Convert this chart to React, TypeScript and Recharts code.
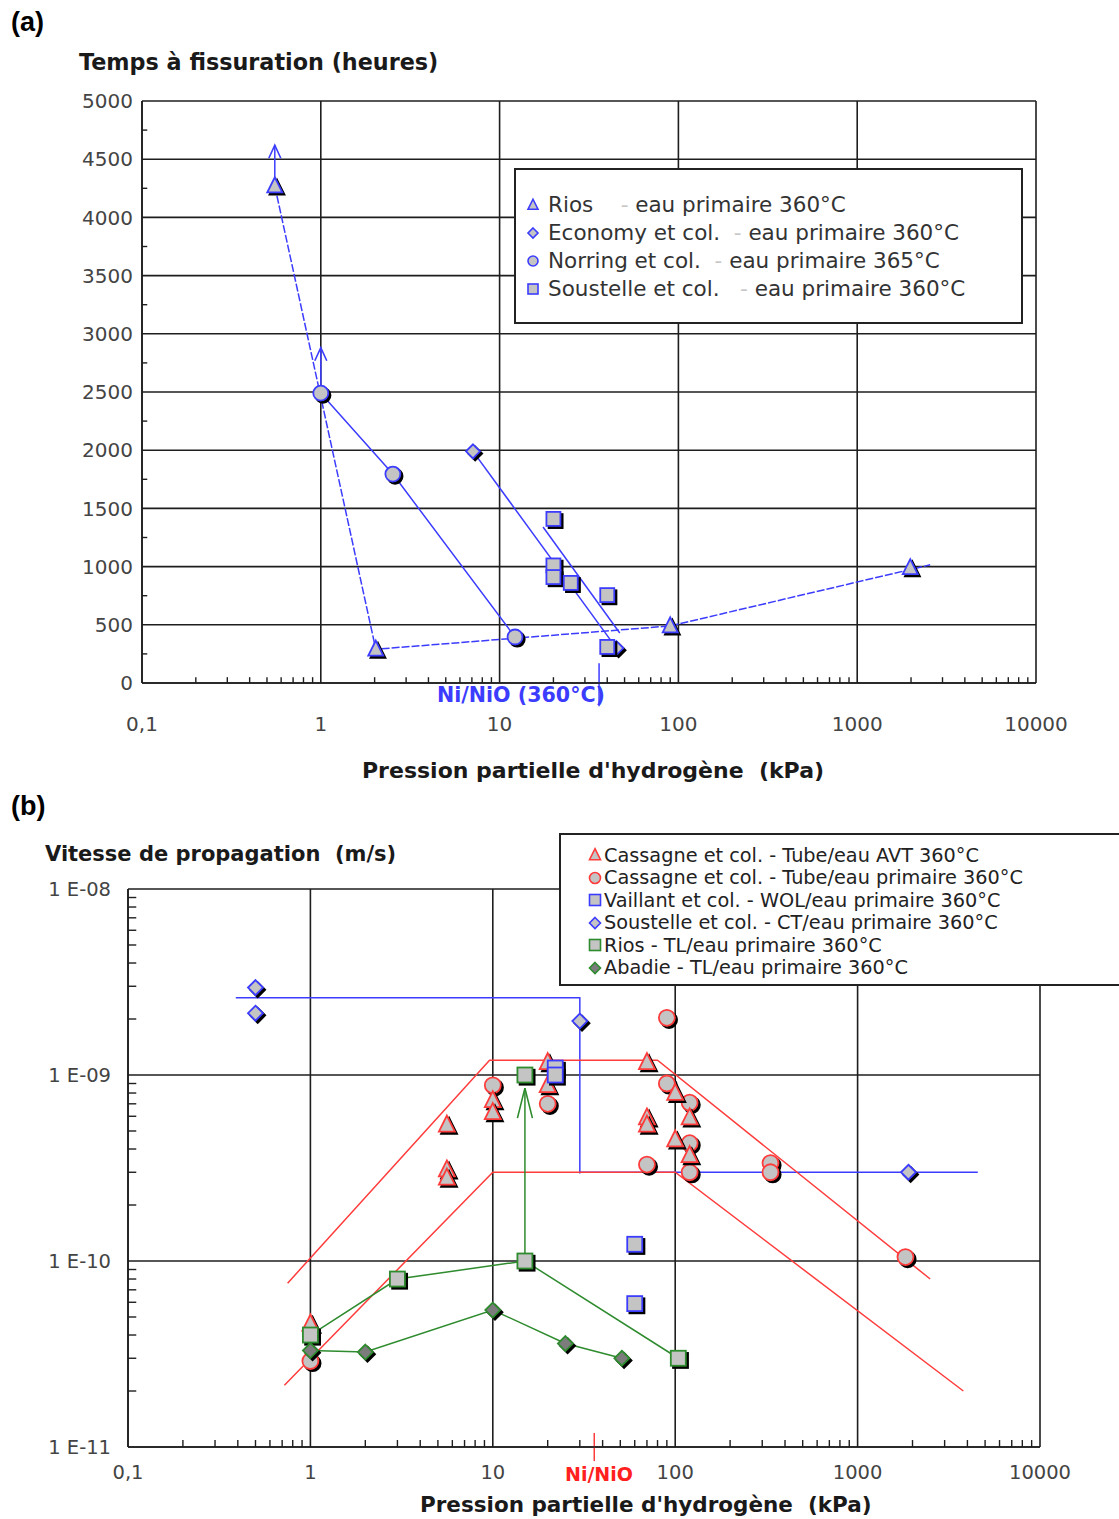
import React from 'react'
import { ScatterChart, Scatter, XAxis, YAxis, CartesianGrid, ReferenceLine } from 'recharts'

type Pt = { x: number; y: number }
type Kind = 'triangle' | 'circle' | 'square' | 'diamond'

// shared hydrogen pressure axis (kPa, log)
const pressureTicks = [0.1, 1, 10, 100, 1000, 10000]
const pressureTickLabels = ['0,1', '1', '10', '100', '1000', '10000']
const pressureMinorTicks = [
  0.2, 0.3, 0.4, 0.5, 0.6, 0.7, 0.8, 0.9, 2, 3, 4, 5, 6, 7, 8, 9, 20, 30, 40, 50, 60, 70, 80, 90,
  200, 300, 400, 500, 600, 700, 800, 900, 2000, 3000, 4000, 5000, 6000, 7000, 8000, 9000,
]
const niNiOPressure = 36

// (a) time to cracking (hours)
const hoursTicks = [0, 500, 1000, 1500, 2000, 2500, 3000, 3500, 4000, 4500, 5000]
const hoursMinorTicks = [250, 750, 1250, 1750, 2250, 2750, 3250, 3750, 4250, 4750]

const riosHours: Pt[] = [
  { x: 0.553, y: 4270 },
  { x: 2.03, y: 290 },
  { x: 90, y: 490 },
  { x: 1980, y: 990 },
]
const riosHoursTrend: Pt[] = [
  { x: 0.553, y: 4270 },
  { x: 2.03, y: 290 },
  { x: 90, y: 490 },
  { x: 2560, y: 1015 },
]
const riosHoursArrowA: Pt[] = [{ x: 0.553, y: 4270 }, { x: 0.553, y: 4620 }]
const riosHoursArrowB: Pt[] = [{ x: 1, y: 2500 }, { x: 1, y: 2880 }]
const economyHours: Pt[] = [{ x: 7.1, y: 1990 }, { x: 45, y: 300 }]
const norringHours: Pt[] = [{ x: 1, y: 2490 }, { x: 2.53, y: 1795 }, { x: 12.2, y: 395 }]
const soustelleHours: Pt[] = [
  { x: 20, y: 1410 },
  { x: 20, y: 1010 },
  { x: 20, y: 910 },
  { x: 25, y: 860 },
  { x: 40, y: 755 },
  { x: 40, y: 310 },
]
const soustelleHoursTrend: Pt[] = [{ x: 17.5, y: 1340 }, { x: 47, y: 430 }]

// (b) crack growth rate (m/s)
const speedTicks = [1e-11, 1e-10, 1e-9, 1e-8]
const speedTickLabels = ['1 E-11', '1 E-10', '1 E-09', '1 E-08']
const speedMinorTicks = [
  2e-11, 3e-11, 4e-11, 5e-11, 6e-11, 7e-11, 8e-11, 9e-11,
  2e-10, 3e-10, 4e-10, 5e-10, 6e-10, 7e-10, 8e-10, 9e-10,
  2e-9, 3e-9, 4e-9, 5e-9, 6e-9, 7e-9, 8e-9, 9e-9,
]

const cassagneAvt: Pt[] = [
  { x: 1, y: 4.6e-11 },
  { x: 5.6, y: 5.4e-10 },
  { x: 5.6, y: 3.1e-10 },
  { x: 5.6, y: 2.8e-10 },
  { x: 10, y: 7.3e-10 },
  { x: 10, y: 6.3e-10 },
  { x: 20, y: 1.17e-9 },
  { x: 20, y: 8.8e-10 },
  { x: 70, y: 1.17e-9 },
  { x: 70, y: 5.9e-10 },
  { x: 70, y: 5.4e-10 },
  { x: 100, y: 8e-10 },
  { x: 100, y: 4.5e-10 },
  { x: 120, y: 5.9e-10 },
  { x: 120, y: 3.7e-10 },
]
const cassagnePrimary: Pt[] = [
  { x: 1, y: 2.9e-11 },
  { x: 10, y: 8.8e-10 },
  { x: 20, y: 7e-10 },
  { x: 70, y: 3.3e-10 },
  { x: 90, y: 2.03e-9 },
  { x: 90, y: 9e-10 },
  { x: 120, y: 7.1e-10 },
  { x: 120, y: 4.3e-10 },
  { x: 120, y: 3e-10 },
  { x: 333, y: 3.36e-10 },
  { x: 333, y: 3e-10 },
  { x: 1830, y: 1.05e-10 },
]
const cassagneUpper: Pt[] = [
  { x: 0.75, y: 7.6e-11 },
  { x: 9.6, y: 1.2e-9 },
  { x: 80, y: 1.2e-9 },
  { x: 2500, y: 8e-11 },
]
const cassagneLower: Pt[] = [
  { x: 0.72, y: 2.15e-11 },
  { x: 10, y: 3e-10 },
  { x: 100, y: 3e-10 },
  { x: 3800, y: 2e-11 },
]
const vaillantWol: Pt[] = [
  { x: 22, y: 1.09e-9 },
  { x: 22, y: 1e-9 },
  { x: 60, y: 1.23e-10 },
  { x: 60, y: 5.9e-11 },
]
const soustelleCt: Pt[] = [
  { x: 0.5, y: 2.95e-9 },
  { x: 0.5, y: 2.15e-9 },
  { x: 30, y: 1.95e-9 },
  { x: 1900, y: 3e-10 },
]
const soustelleCtStep: Pt[] = [
  { x: 0.39, y: 2.6e-9 },
  { x: 30, y: 2.6e-9 },
  { x: 30, y: 2.95e-10 },
  { x: 30, y: 3e-10 },
  { x: 4560, y: 3e-10 },
]
const riosTl: Pt[] = [
  { x: 1, y: 4e-11 },
  { x: 3, y: 8e-11 },
  { x: 15, y: 1e-10 },
  { x: 15, y: 1e-9 },
  { x: 104, y: 3e-11 },
]
const riosTlTrend: Pt[] = [
  { x: 1, y: 4e-11 },
  { x: 3, y: 8e-11 },
  { x: 15, y: 1e-10 },
  { x: 104, y: 3e-11 },
]
const riosTlArrow: Pt[] = [{ x: 15, y: 1e-10 }, { x: 15, y: 8.5e-10 }]
const abadieTl: Pt[] = [
  { x: 1, y: 3.3e-11 },
  { x: 2, y: 3.24e-11 },
  { x: 10, y: 5.45e-11 },
  { x: 25, y: 3.6e-11 },
  { x: 51, y: 3e-11 },
]

const BLUE = '#3c3cff'
const RED = '#ff3c3c'
const GREEN = '#2e8b2e'
const GREY = '#c4c4c4'
const GRID = '#1e1e1e'
const FONT = '"DejaVu Sans", Verdana, sans-serif'

function glyph(kind: Kind, cx: number, cy: number, r: number, stroke: string, fill: string, sw = 1.8) {
  switch (kind) {
    case 'triangle':
      return (
        <polygon
          points={`${cx},${cy - r * 1.15} ${cx + r},${cy + r * 0.85} ${cx - r},${cy + r * 0.85}`}
          stroke={stroke} fill={fill} strokeWidth={sw} strokeLinejoin="miter"
        />
      )
    case 'circle':
      return <circle cx={cx} cy={cy} r={r} stroke={stroke} fill={fill} strokeWidth={sw} />
    case 'square':
      return <rect x={cx - r} y={cy - r} width={r * 2} height={r * 2} stroke={stroke} fill={fill} strokeWidth={sw} />
    default:
      return (
        <polygon
          points={`${cx},${cy - r} ${cx + r},${cy} ${cx},${cy + r} ${cx - r},${cy}`}
          stroke={stroke} fill={fill} strokeWidth={sw}
        />
      )
  }
}

function marker(kind: Kind, stroke: string, fill: string, r: number) {
  return (props: any) => {
    const { cx, cy } = props
    if (typeof cx !== 'number' || typeof cy !== 'number') return <g />
    return (
      <g>
        {glyph(kind, cx + 2.2, cy + 2.2, r, '#000', '#000')}
        {glyph(kind, cx, cy, r, stroke, fill)}
      </g>
    )
  }
}

const noMarker = () => <g />

function arrowHead(color: string, w: number, h: number) {
  return (props: any) => {
    const { cx, cy } = props
    if (typeof cx !== 'number' || typeof cy !== 'number') return <g />
    return (
      <polyline
        points={`${cx - w / 2},${cy + h} ${cx},${cy} ${cx + w / 2},${cy + h}`}
        fill="none" stroke={color} strokeWidth={1.6}
      />
    )
  }
}

const pressureLabel = (v: number) => pressureTickLabels[pressureTicks.indexOf(v)] ?? String(v)
const speedLabel = (v: number) => speedTickLabels[speedTicks.indexOf(v)] ?? String(v)

function Text({ left, cy, size, children, bold = true, color = '#1a1a1a', family = FONT }: any) {
  const lh = Math.round(size * 1.4)
  return (
    <div
      style={{
        position: 'absolute', left, top: cy - lh / 2, height: lh, lineHeight: `${lh}px`,
        fontSize: size, fontWeight: bold ? 'bold' : 'normal', color, fontFamily: family, whiteSpace: 'pre',
      }}
    >
      {children}
    </div>
  )
}

function LegendSymbol({ kind, stroke, fill, r, left, cy }: any) {
  return (
    <svg width={20} height={20} style={{ position: 'absolute', left: left - 10, top: cy - 10 }}>
      {glyph(kind, 10, 10, r, stroke, fill, 1.6)}
    </svg>
  )
}

const legendA = [
  { kind: 'triangle', name: 'Rios', gap: '    ', rest: 'eau primaire 360°C' },
  { kind: 'diamond', name: 'Economy et col.', gap: '  ', rest: 'eau primaire 360°C' },
  { kind: 'circle', name: 'Norring et col.', gap: '  ', rest: 'eau primaire 365°C' },
  { kind: 'square', name: 'Soustelle et col.', gap: '   ', rest: 'eau primaire 360°C' },
]

const legendB = [
  { kind: 'triangle', stroke: RED, fill: GREY, label: 'Cassagne et col. - Tube/eau AVT 360°C' },
  { kind: 'circle', stroke: RED, fill: GREY, label: 'Cassagne et col. - Tube/eau primaire 360°C' },
  { kind: 'square', stroke: BLUE, fill: GREY, label: 'Vaillant et col. - WOL/eau primaire 360°C' },
  { kind: 'diamond', stroke: BLUE, fill: GREY, label: 'Soustelle et col. - CT/eau primaire 360°C' },
  { kind: 'square', stroke: GREEN, fill: GREY, label: 'Rios - TL/eau primaire 360°C' },
  { kind: 'diamond', stroke: GREEN, fill: '#7c7c7c', label: 'Abadie - TL/eau primaire 360°C' },
]

const tickStyle = { fill: '#444', fontSize: 20, fontFamily: FONT }

// small inward minor ticks, drawn as short segments in data space
function minorTicksX(values: number[], y0: number, y1: number, prefix: string) {
  return values.map((v) => (
    <ReferenceLine
      key={`${prefix}${v}`} segment={[{ x: v, y: y0 }, { x: v, y: y1 }]}
      stroke={GRID} strokeWidth={1.4} ifOverflow="visible"
    />
  ))
}
function minorTicksY(values: number[], x0: number, x1: number, prefix: string) {
  return values.map((v) => (
    <ReferenceLine
      key={`${prefix}${v}`} segment={[{ x: x0, y: v }, { x: x1, y: v }]}
      stroke={GRID} strokeWidth={1.4} ifOverflow="visible"
    />
  ))
}

function TimeChart() {
  return (
    <ScatterChart width={1119} height={790} margin={{ top: 101, right: 83, bottom: 0, left: 0 }}>
      <CartesianGrid stroke={GRID} strokeWidth={1.6} />
      <XAxis
        dataKey="x" type="number" scale="log" domain={[0.1, 10000]} allowDataOverflow
        ticks={pressureTicks} interval={0} tickFormatter={pressureLabel}
        tickLine={false} tickSize={0} tickMargin={34} height={107}
        axisLine={{ stroke: GRID, strokeWidth: 1.6 }} tick={tickStyle}
      />
      <YAxis
        dataKey="y" type="number" domain={[0, 5000]} allowDataOverflow ticks={hoursTicks} interval={0}
        width={142} tickLine={false} tickSize={0} tickMargin={9}
        axisLine={{ stroke: GRID, strokeWidth: 1.6 }} tick={tickStyle}
      />
      {minorTicksX(pressureMinorTicks, 0, 50, 'amx')}
      {minorTicksY(hoursMinorTicks, 0.1, 0.107, 'amy')}
      <ReferenceLine
        segment={[{ x: niNiOPressure, y: 170 }, { x: niNiOPressure, y: -200 }]}
        stroke={BLUE} strokeWidth={1.5} ifOverflow="visible"
      />

      <Scatter data={riosHoursTrend} shape={noMarker} line={{ stroke: BLUE, strokeWidth: 1.5, strokeDasharray: '8 2' }} isAnimationActive={false} />
      <Scatter data={norringHours} shape={noMarker} line={{ stroke: BLUE, strokeWidth: 1.5 }} isAnimationActive={false} />
      <Scatter data={economyHours} shape={noMarker} line={{ stroke: BLUE, strokeWidth: 1.5 }} isAnimationActive={false} />
      <Scatter data={soustelleHoursTrend} shape={noMarker} line={{ stroke: BLUE, strokeWidth: 1.5 }} isAnimationActive={false} />
      <Scatter data={riosHoursArrowA} shape={noMarker} line={{ stroke: BLUE, strokeWidth: 1.5 }} isAnimationActive={false} />
      <Scatter data={riosHoursArrowB} shape={noMarker} line={{ stroke: BLUE, strokeWidth: 1.5 }} isAnimationActive={false} />
      <Scatter data={[riosHoursArrowA[1], riosHoursArrowB[1]]} shape={arrowHead(BLUE, 12, 13)} isAnimationActive={false} />

      <Scatter data={economyHours} shape={marker('diamond', BLUE, GREY, 7)} isAnimationActive={false} />
      <Scatter data={riosHours} shape={marker('triangle', BLUE, GREY, 7.5)} isAnimationActive={false} />
      <Scatter data={norringHours} shape={marker('circle', BLUE, GREY, 7.5)} isAnimationActive={false} />
      <Scatter data={soustelleHours} shape={marker('square', BLUE, GREY, 7)} isAnimationActive={false} />
    </ScatterChart>
  )
}

function SpeedChart() {
  return (
    <ScatterChart width={1119} height={729} margin={{ top: 99, right: 79, bottom: 0, left: 0 }}>
      <CartesianGrid stroke={GRID} strokeWidth={1.6} />
      <XAxis
        dataKey="x" type="number" scale="log" domain={[0.1, 10000]} allowDataOverflow
        ticks={pressureTicks} interval={0} tickFormatter={pressureLabel}
        tickLine={false} tickSize={0} tickMargin={18} height={72}
        axisLine={{ stroke: GRID, strokeWidth: 1.6 }} tick={{ ...tickStyle, fontSize: 19.5 }}
      />
      <YAxis
        dataKey="y" type="number" scale="log" domain={[1e-11, 1e-8]} allowDataOverflow
        ticks={speedTicks} interval={0} tickFormatter={speedLabel}
        width={128} tickLine={false} tickSize={0} tickMargin={17}
        axisLine={{ stroke: GRID, strokeWidth: 1.6 }} tick={{ ...tickStyle, fontSize: 19.5 }}
      />
      {minorTicksX(pressureMinorTicks, 1e-11, 1.09e-11, 'bmx')}
      {minorTicksY(speedMinorTicks, 0.1, 0.111, 'bmy')}
      <ReferenceLine
        segment={[{ x: niNiOPressure, y: 1.19e-11 }, { x: niNiOPressure, y: 8.4e-12 }]}
        stroke={RED} strokeWidth={1.5} ifOverflow="visible"
      />

      <Scatter data={soustelleCtStep} shape={noMarker} line={{ stroke: BLUE, strokeWidth: 1.5 }} isAnimationActive={false} />
      <Scatter data={cassagneUpper} shape={noMarker} line={{ stroke: RED, strokeWidth: 1.5 }} isAnimationActive={false} />
      <Scatter data={cassagneLower} shape={noMarker} line={{ stroke: RED, strokeWidth: 1.5 }} isAnimationActive={false} />
      <Scatter data={riosTlTrend} shape={noMarker} line={{ stroke: GREEN, strokeWidth: 1.5 }} isAnimationActive={false} />
      <Scatter data={abadieTl} shape={noMarker} line={{ stroke: GREEN, strokeWidth: 1.5 }} isAnimationActive={false} />
      <Scatter data={riosTlArrow} shape={noMarker} line={{ stroke: GREEN, strokeWidth: 1.5 }} isAnimationActive={false} />
      <Scatter data={[riosTlArrow[1]]} shape={arrowHead(GREEN, 15, 30)} isAnimationActive={false} />

      <Scatter data={cassagnePrimary} shape={marker('circle', RED, GREY, 8)} isAnimationActive={false} />
      <Scatter data={cassagneAvt} shape={marker('triangle', RED, GREY, 8)} isAnimationActive={false} />
      <Scatter data={vaillantWol} shape={marker('square', BLUE, GREY, 7.5)} isAnimationActive={false} />
      <Scatter data={soustelleCt} shape={marker('diamond', BLUE, GREY, 7.5)} isAnimationActive={false} />
      <Scatter data={riosTl} shape={marker('square', GREEN, GREY, 7.5)} isAnimationActive={false} />
      <Scatter data={abadieTl} shape={marker('diamond', GREEN, '#7c7c7c', 7.5)} isAnimationActive={false} />
    </ScatterChart>
  )
}

export default function App() {
  return (
    <div
      style={{
        position: 'absolute', left: 0, top: 0, width: 1119, height: 1519,
        overflow: 'hidden', background: '#fff', fontFamily: FONT,
      }}
    >
      <div style={{ position: 'absolute', left: 0, top: 0 }}>
        <TimeChart />
      </div>
      <div style={{ position: 'absolute', left: 0, top: 790 }}>
        <SpeedChart />
      </div>

      <Text left={11} cy={22} size={27} color="#000" family='"Liberation Sans", Arial, sans-serif'>(a)</Text>
      <Text left={79} cy={62} size={22.3}>Temps à fissuration (heures)</Text>
      <Text left={362} cy={770} size={22}>Pression partielle d'hydrogène  (kPa)</Text>
      <Text left={437} cy={695} size={20.6} color={BLUE}>Ni/NiO (360°C)</Text>

      <div
        style={{
          position: 'absolute', left: 514, top: 168, width: 509, height: 156,
          border: '2px solid #222', background: '#fff', boxSizing: 'border-box',
        }}
      >
        {legendA.map((item, i) => (
          <React.Fragment key={item.name}>
            <LegendSymbol kind={item.kind} stroke={BLUE} fill={GREY} r={5} left={17} cy={35 + i * 28} />
            <Text left={32} cy={35 + i * 28} size={21.5} bold={false} color="#333">
              {item.name}
              <span style={{ color: '#c8c8c8' }}>{item.gap}- </span>
              {item.rest}
            </Text>
          </React.Fragment>
        ))}
      </div>

      <Text left={11} cy={806} size={27} color="#000" family='"Liberation Sans", Arial, sans-serif'>(b)</Text>
      <Text left={45} cy={854} size={21}>Vitesse de propagation  (m/s)</Text>
      <Text left={420} cy={1505} size={21.5}>Pression partielle d'hydrogène  (kPa)</Text>
      <Text left={565} cy={1474} size={19} color="#ff2020">Ni/NiO</Text>

      <div
        style={{
          position: 'absolute', left: 559, top: 833, width: 600, height: 153,
          border: '2px solid #222', background: '#fff', boxSizing: 'border-box',
        }}
      >
        {legendB.map((item, i) => (
          <React.Fragment key={item.label}>
            <LegendSymbol kind={item.kind} stroke={item.stroke} fill={item.fill} r={5.5} left={34} cy={20 + i * 22.5} />
            <Text left={43} cy={20 + i * 22.5} size={19.3} bold={false} color="#222">
              {item.label}
            </Text>
          </React.Fragment>
        ))}
      </div>
    </div>
  )
}
